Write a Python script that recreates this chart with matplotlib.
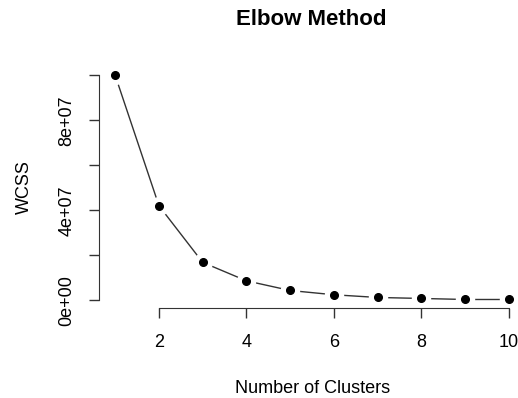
import matplotlib
matplotlib.use("Agg")
import matplotlib.pyplot as plt

# data
clusters = [1, 2, 3, 4, 5, 6, 7, 8, 9, 10]
wcss = [1.0e8, 4.2e7, 1.68e7, 8.6e6, 4.3e6, 2.4e6, 1.2e6, 7.6e5, 3.0e5, 3.0e5]
x_ticks = [2, 4, 6, 8, 10]
y_ticks = [0, 2e7, 4e7, 6e7, 8e7, 1e8]
y_labels = ["0e+00", "", "4e+07", "", "8e+07", ""]

plt.rcParams['font.family'] = ['Liberation Sans', 'DejaVu Sans']

fig = plt.figure(figsize=(5.18, 3.98), dpi=100)
ax = fig.add_axes([0.192, 0.225, 0.821, 0.608])

# R style type="b": line with gaps around the points
ax.plot(clusters, wcss, color="#333333", lw=1.0, zorder=1)
ax.plot(clusters, wcss, "o", ms=13, mfc="white", mec="white", zorder=2)
ax.plot(clusters, wcss, "o", ms=5.5, color="black", zorder=3)

span = max(wcss) - min(wcss)
ax.set_xlim(1 - 0.04 * 9, 10 + 0.04 * 9)
ax.set_ylim(min(wcss) - 0.04 * span, max(wcss) + 0.04 * span)

for s in ["top", "right"]:
    ax.spines[s].set_visible(False)
ax.spines["left"].set_bounds(0, 1e8)
ax.spines["bottom"].set_bounds(2, 10)
for s in ["left", "bottom"]:
    ax.spines[s].set_color("#333333")

ax.set_xticks(x_ticks)
ax.set_xticklabels([str(t) for t in x_ticks])
ax.set_yticks(y_ticks)
ax.set_yticklabels(y_labels, rotation=90, va="center")
ax.tick_params(length=7.5, width=1, color="#333333", labelsize=13)
ax.tick_params(axis="x", pad=11)
ax.tick_params(axis="y", pad=10)

ax.set_xlabel("Number of Clusters", fontsize=13, va="center")
ax.xaxis.set_label_coords(0.5, -0.329)
ax.set_ylabel("WCSS", fontsize=13, va="center")
ax.yaxis.set_label_coords(-0.1775, 0.5)
fig.text(0.601, 0.95, "Elbow Method", ha="center", va="center",
         fontsize=16, fontweight="bold")

fig.savefig("out.png", dpi=100)
